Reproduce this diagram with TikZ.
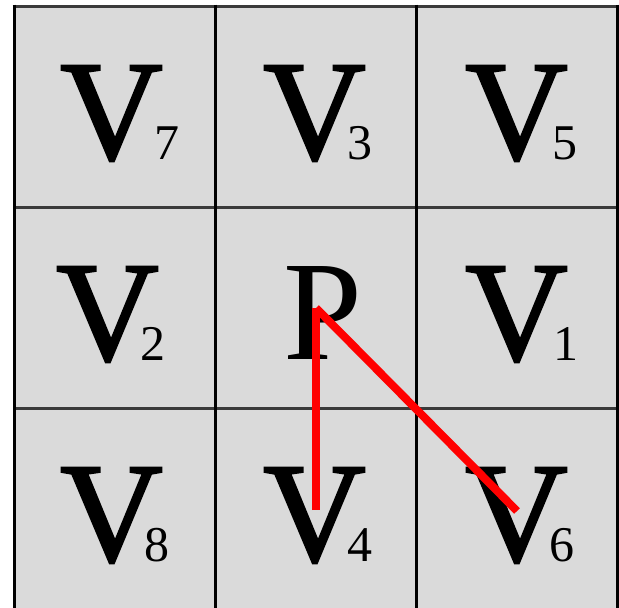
\documentclass[tikz,border=0pt]{standalone}
\usepackage{fontspec}
\setmainfont{Liberation Serif}
\newfontfamily\vfont[FakeBold=1.8]{Liberation Serif}
\definecolor{cellgray}{HTML}{DADADA}
\definecolor{hline}{HTML}{3A3A3A}
\tikzset{
  big/.style={inner sep=0pt, anchor=base west, font=\fontsize{142}{142}\selectfont},
  vline/.style={line width=3pt, black},
  hrule/.style={line width=3pt, hline},
  redline/.style={line width=8pt, red}
}
\newcommand{\Vsub}[2][-18pt]{{\vfont V}\kern#1{\fontsize{50}{50}\selectfont #2}}
\begin{document}
\begin{tikzpicture}[x=1pt,y=-1pt]
\useasboundingbox (0,0) rectangle (619,608);
\fill[white] (0,0) rectangle (619,608);
\fill[cellgray] (14,6) rectangle (617,610);
% horizontal lines
\draw[hrule] (12.5,6) -- (618.5,6);
\draw[hrule] (14,207) -- (617,207);
\draw[hrule] (14,408) -- (617,408);
% vertical lines
\draw[vline] (14,4.5) -- (14,610);
\draw[vline] (215,4.5) -- (215,610);
\draw[vline] (416,4.5) -- (416,610);
\draw[vline] (617,4.5) -- (617,610);
% labels
\node[big] (v7) at (60,159) {\Vsub[-8pt]{7}};
\node[big] (v3) at (263,159) {\Vsub{3}};
\node[big] (v5) at (465,159) {\Vsub[-15pt]{5}};
\node[big] (v2) at (56,360) {\Vsub{2}};
\node[big] (p) at (283,359) {P};
\node[big] (v1) at (465,360) {\Vsub[-14pt]{1}};
\node[big] (v8) at (60,561) {\Vsub{8}};
\node[big] (v4) at (263,561) {\Vsub{4}};
\node[big] (v6) at (465,561) {\Vsub{6}};
% red connectors
\coordinate (pt) at (316,308);
\coordinate (a) at (316,510);
\coordinate (b) at (517,511);
\draw[redline] (a) -- (pt);
\draw[redline] (pt) -- (b);
\end{tikzpicture}
\end{document}
